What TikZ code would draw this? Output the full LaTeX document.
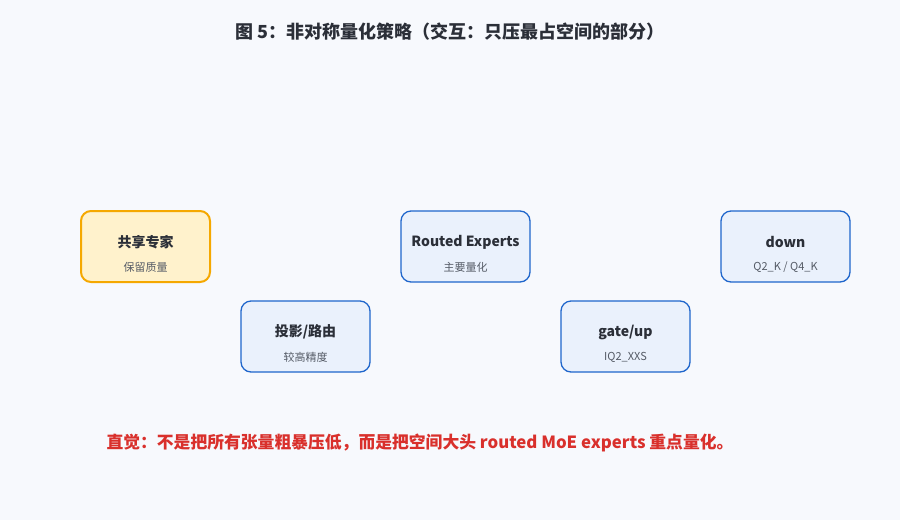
\documentclass[tikz,border=0pt]{standalone}
\usepackage{fontspec}
\setmainfont{Noto Sans CJK SC}
\usetikzlibrary{positioning}
\definecolor{bg}{HTML}{F7F9FD}
\definecolor{ink}{HTML}{2B2F38}
\definecolor{subink}{HTML}{555B66}
\definecolor{blueline}{HTML}{1F66CC}
\definecolor{bluefill}{HTML}{EAF1FC}
\definecolor{goldline}{HTML}{F5A800}
\definecolor{goldfill}{HTML}{FFF2CC}
\definecolor{alert}{HTML}{D9302C}
\tikzset{
  expert/.style={draw=blueline, fill=bluefill, line width=1.3pt, rounded corners=10pt,
    minimum width=129pt, minimum height=71pt},
  shared/.style={expert, draw=goldline, fill=goldfill, line width=2pt},
  boxhead/.style={text=ink, font=\fontsize{14}{16}\selectfont\bfseries},
  boxsub/.style={text=subink, font=\fontsize{11}{13}\selectfont},
}
% headline and subline of a box
\newcommand{\boxtext}[3]{%
  \node[boxhead] (#1-head) at ([yshift=4.5pt]#1.center) {#2};
  \node[boxsub] (#1-sub) at ([yshift=-20.5pt]#1.center) {#3};}

\begin{document}
\begin{tikzpicture}[x=1pt,y=-1pt]
\fill[bg] (0,0) rectangle (900,520);
\useasboundingbox (0,0) rectangle (900,520);

\node[text=ink, font=\fontsize{18}{21}\selectfont\bfseries] (title) at (450,32) {图 5：非对称量化策略（交互：只压最占空间的部分）};

\node[shared] (shared) at (145.5,246.5) {};
\node[expert] (proj) at (305.5,336.5) {};
\node[expert] (routed) at (465.5,246.5) {};
\node[expert] (gate) at (625.5,336.5) {};
\node[expert] (down) at (785.5,246.5) {};

\boxtext{shared}{共享专家}{保留质量}
\boxtext{proj}{投影/路由}{较高精度}
\boxtext{routed}{Routed Experts}{主要量化}
\boxtext{gate}{gate/up}{IQ2\_XXS}
\boxtext{down}{down}{Q2\_K / Q4\_K}

\node[text=alert, anchor=west, font=\fontsize{16.8}{20}\selectfont\bfseries] (note) at (103,443) {直觉：不是把所有张量粗暴压低，而是把空间大头 routed MoE experts 重点量化。};

\end{tikzpicture}
\end{document}
